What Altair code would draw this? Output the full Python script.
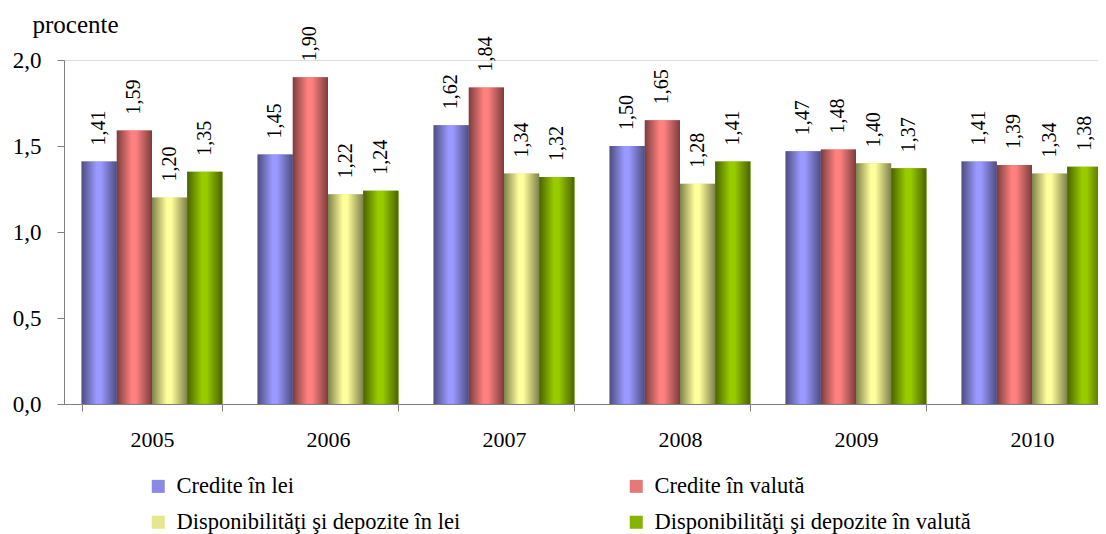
import altair as alt
import pandas as pd

years = ["2005", "2006", "2007", "2008", "2009", "2010"]
series = [
    "Credite în lei",
    "Credite în valută",
    "Disponibilităţi şi depozite în lei",
    "Disponibilităţi şi depozite în valută",
]
credite_lei = [1.41, 1.45, 1.62, 1.50, 1.47, 1.41]
credite_valuta = [1.59, 1.90, 1.84, 1.65, 1.48, 1.39]
disp_lei = [1.20, 1.22, 1.34, 1.28, 1.40, 1.34]
disp_valuta = [1.35, 1.24, 1.32, 1.41, 1.37, 1.38]
y_ticks = [0, 0.5, 1.0, 1.5, 2.0]

solid = ["#8a8ae6", "#e67878", "#e6e68c", "#85b300"]
gradients = [
    ("#4d4d80", "#9999ff"),
    ("#7a3d3d", "#ff8080"),
    ("#80804d", "#ffff99"),
    ("#4a6300", "#99cc00"),
]

# legend is filled column by column: reorder so rows read s0 s1 / s2 s3
legend_order = [series[0], series[2], series[1], series[3]]
legend_colors = [solid[0], solid[2], solid[1], solid[3]]

rows = []
for s, vals in zip(series, [credite_lei, credite_valuta, disp_lei, disp_valuta]):
    for y, v in zip(years, vals):
        rows.append({"year": y, "series": s, "value": v})
df = pd.DataFrame(rows)

FONT = "Liberation Serif"

x_enc = alt.X(
    "year:N",
    title=None,
    scale=alt.Scale(range=[0, 1056], paddingInner=0.2, paddingOuter=0.1),
    axis=alt.Axis(
        tickBand="extent",
        tickSize=7,
        labelAngle=0,
        labelFontSize=22,
        labelPadding=18,
        labelColor="black",
        domainColor="#808080",
        tickColor="#808080",
        labelFont=FONT,
    ),
)
y_enc = alt.Y(
    "value:Q",
    scale=alt.Scale(domain=[0, 2], nice=False),
    axis=alt.Axis(
        values=y_ticks,
        labelExpr="replace(format(datum.value, '.1f'), '.', ',')",
        grid=False,
        tickSize=7,
        labelPadding=16,
        labelFontSize=23,
        labelColor="black",
        labelFont=FONT,
        domainColor="#808080",
        tickColor="#808080",
        title="procente",
        titleAngle=0,
        titleX=-32,
        titleY=-28,
        titleAlign="left",
        titleBaseline="alphabetic",
        titleFontWeight="normal",
        titleFontSize=25,
        titleFont=FONT,
        titleColor="black",
    ),
)
xoff = alt.XOffset("series:N", sort=series, scale=alt.Scale(domain=series, paddingInner=0, paddingOuter=0))

base = alt.Chart(df)

bars = base.mark_bar().encode(
    x=x_enc,
    y=y_enc,
    xOffset=xoff,
    color=alt.Color(
        "series:N",
        sort=legend_order,
        scale=alt.Scale(domain=legend_order, range=legend_colors),
        legend=alt.Legend(
            title=None,
            orient="none",
            legendX=83,
            legendY=415,
            columns=2,
            columnPadding=164,
            rowPadding=13,
            symbolType="square",
            symbolSize=169,
            symbolStrokeWidth=0,
            labelOffset=7,
            labelFontSize=22.5,
            labelFont=FONT,
            labelColor="black",
            labelLimit=600,
        ),
    ),
)

layers = [bars]
for s, (dark, light) in zip(series, gradients):
    g = alt.Gradient(
        gradient="linear",
        x1=0, x2=1, y1=0, y2=0,
        stops=[
            alt.GradientStop(offset=0, color=dark),
            alt.GradientStop(offset=0.42, color=light),
            alt.GradientStop(offset=0.55, color=light),
            alt.GradientStop(offset=1, color=dark),
        ],
    )
    layers.append(
        base.transform_filter(alt.datum.series == s)
        .mark_bar(color=g)
        .encode(x="year:N", y="value:Q", xOffset=xoff)
    )

labels = base.transform_calculate(
    lbl="replace(format(datum.value, '.2f'), '.', ',')"
).mark_text(
    angle=270, align="left", baseline="middle", dx=16, fontSize=20, font=FONT, color="black"
).encode(x="year:N", y="value:Q", xOffset=xoff, text="lbl:N")
layers.append(labels)

chart = alt.layer(*layers).properties(
    width=1034,
    height=344,
    autosize=alt.AutoSizeParams(type="none"),
    padding={"left": 56, "top": 52, "right": 0, "bottom": 130},
).configure_view(stroke=None).configure(font=FONT)

chart.save("out.html", embed_options={"renderer": "svg", "actions": False})
